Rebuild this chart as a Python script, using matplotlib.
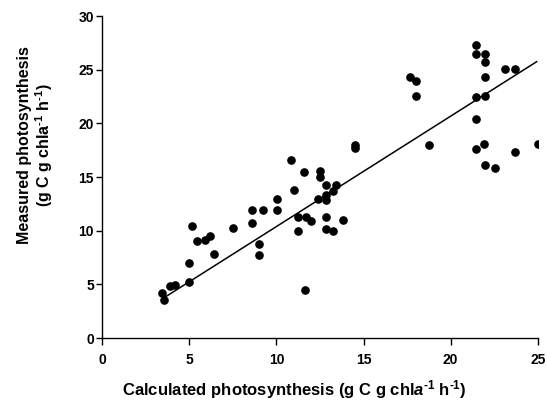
import matplotlib.pyplot as plt
import numpy as np

plt.rcParams['font.family'] = 'Liberation Sans'
plt.rcParams['font.weight'] = 'bold'
plt.rcParams['mathtext.fontset'] = 'custom'
plt.rcParams['mathtext.rm'] = 'Liberation Sans:bold'
plt.rcParams['mathtext.it'] = 'Liberation Sans:bold:italic'
plt.rcParams['mathtext.bf'] = 'Liberation Sans:bold'

# calculated (x) vs measured (y) photosynthesis
calculated = [3.41, 3.56, 3.89, 4.19, 4.96, 4.96, 5.13, 5.45, 5.91, 6.18,
              6.39, 7.50, 8.57, 8.57, 8.98, 8.98, 9.24, 10.01, 10.01, 10.85,
              10.99, 11.25, 11.25, 11.56, 11.67, 11.65, 11.98, 12.36, 12.50, 12.50,
              12.86, 12.86, 12.86, 12.86, 12.86, 13.24, 13.44, 13.24, 13.84, 14.51,
              14.51, 17.67, 18.01, 18.01, 18.74, 21.45, 21.45, 21.97, 21.97, 21.97,
              23.10, 23.69, 21.45, 21.97, 21.44, 21.44, 21.93, 21.97, 22.53, 23.67,
              25.0]
measured = [4.19, 3.57, 4.87, 4.96, 6.98, 5.27, 10.46, 9.06, 9.15, 9.49,
            7.85, 10.24, 11.98, 10.74, 8.78, 7.79, 11.98, 13.0, 11.98, 16.63,
            13.81, 11.26, 9.99, 15.48, 11.26, 4.53, 10.95, 13.0, 15.54, 15.02,
            14.30, 13.31, 12.85, 11.26, 10.15, 13.68, 14.30, 10.02, 11.01, 18.03,
            17.69, 24.29, 23.98, 22.53, 18.03, 27.27, 26.47, 26.50, 25.75, 24.36,
            25.04, 25.04, 22.46, 22.53, 20.45, 17.65, 18.06, 16.17, 15.85, 17.38,
            18.09]

# regression line as drawn
fit_slope = 1.028
fit_intercept = 0.12
fit_range = [3.66, 24.94]

fig = plt.figure(figsize=(5.47, 4.04), dpi=100)
ax = fig.add_axes([0.187, 0.163, 0.796, 0.797])

ax.plot(calculated, measured, 'o', color='black', ms=5.2, mec='black')
lx = np.array(fit_range)
ax.plot(lx, fit_slope * lx + fit_intercept, color='black', lw=1.1)

ax.set_xlim(0, 25)
ax.set_ylim(0, 30)
ax.set_xticks([0, 5, 10, 15, 20, 25])
ax.set_yticks([0, 5, 10, 15, 20, 25, 30])
for s in ['top', 'right']:
    ax.spines[s].set_visible(False)
ax.spines['left'].set_linewidth(1.0)
ax.spines['bottom'].set_linewidth(1.0)
ax.tick_params(axis='x', direction='out', length=5, width=1, labelsize=10, pad=6)
ax.tick_params(axis='y', direction='out', length=4, width=1, labelsize=10, pad=2)
for lab in ax.get_xticklabels() + ax.get_yticklabels():
    lab.set_fontweight('bold')

ax.set_xlabel('Calculated photosynthesis (g C g chl$\\it{a}$$^{\\text{-1}}$ h$^{\\text{-1}}$)',
              fontsize=12, fontweight='bold')
ax.set_ylabel('Measured photosynthesis\n(g C g chla$^{\\text{-1}}$ h$^{\\text{-1}}$)',
              fontsize=11.5, fontweight='bold', linespacing=1.1)
ax.xaxis.set_label_coords(0.44, -0.125)
ax.yaxis.set_label_coords(-0.108, 0.60)

fig.savefig('out.png', dpi=100)
